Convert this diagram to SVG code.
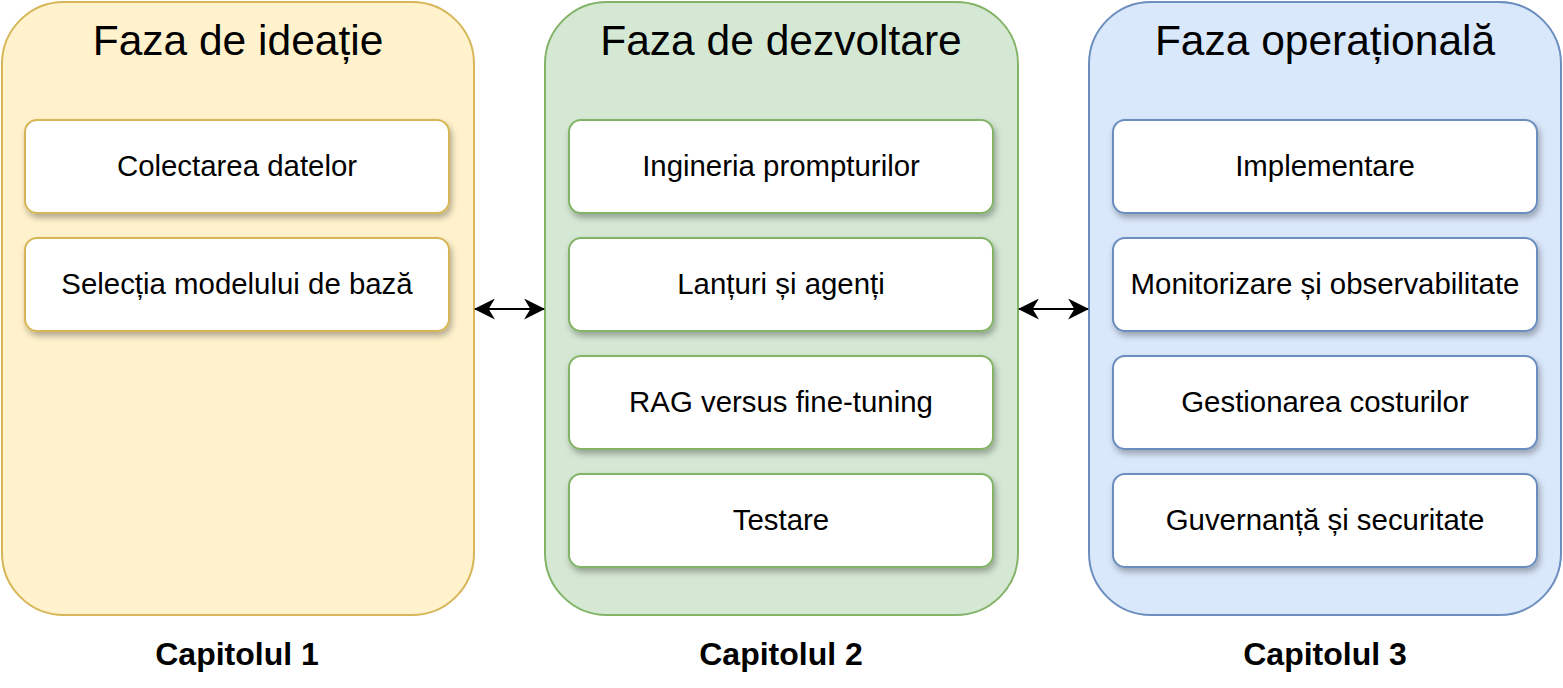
<svg xmlns="http://www.w3.org/2000/svg" width="1563" height="688" viewBox="0 0 1563 688">
<style>
.panel{stroke-width:2}
.p1{fill:#fff2cc;stroke:#d6b656}
.p2{fill:#d5e8d4;stroke:#82b366}
.p3{fill:#dae8fc;stroke:#6c8ebf}
.box{fill:#ffffff;stroke-width:2;filter:url(#sh)}
.b1{stroke:#d6b656}
.b2{stroke:#82b366}
.b3{stroke:#6c8ebf}
.title{font-family:"Liberation Sans",Arial,sans-serif;font-size:42.5px;fill:#000;text-anchor:middle}
.lbl{font-family:"Liberation Sans",Arial,sans-serif;font-size:29.4px;fill:#000;text-anchor:middle}
.cap{font-family:"Liberation Sans",Arial,sans-serif;font-size:32px;font-weight:bold;fill:#000;text-anchor:middle}
.conn{stroke:#000;stroke-width:2;fill:none;marker-start:url(#arr);marker-end:url(#arr)}
</style>
<defs>
<filter id="sh" x="-10%" y="-20%" width="120%" height="150%">
<feDropShadow dx="2" dy="4" stdDeviation="3" flood-color="#000" flood-opacity="0.3"/>
</filter>
<marker id="arr" viewBox="0 0 20 20" refX="19" refY="10" markerWidth="21" markerHeight="21" markerUnits="userSpaceOnUse" orient="auto-start-reverse">
<path d="M0,0 L20,10 L0,20 L6,10 Z" fill="#000"/>
</marker>
</defs>
<rect width="1563" height="688" fill="#ffffff"/>

<g id="phase1">
<rect class="panel p1" x="2" y="2" width="472" height="613" rx="62"/>
<text class="title" x="238" y="55">Faza de ideație</text>
</g>
<g id="n-colectarea">
<rect class="box b1" x="25" y="120" width="424" height="93" rx="12"/>
<text class="lbl" x="237" y="176">Colectarea datelor</text>
</g>
<g id="n-selectia">
<rect class="box b1" x="25" y="238" width="424" height="93" rx="12"/>
<text class="lbl" x="237" y="294">Selecția modelului de bază</text>
</g>
<g id="cap1"><text class="cap" x="237" y="665">Capitolul 1</text></g>

<g id="phase2">
<rect class="panel p2" x="545" y="2" width="473" height="613" rx="62"/>
<text class="title" x="781" y="55">Faza de dezvoltare</text>
</g>
<g id="n-inginerie">
<rect class="box b2" x="569" y="120" width="424" height="93" rx="12"/>
<text class="lbl" x="781" y="176">Ingineria prompturilor</text>
</g>
<g id="n-lanturi">
<rect class="box b2" x="569" y="238" width="424" height="93" rx="12"/>
<text class="lbl" x="781" y="294">Lanțuri și agenți</text>
</g>
<g id="n-rag">
<rect class="box b2" x="569" y="356" width="424" height="93" rx="12"/>
<text class="lbl" x="781" y="412">RAG versus fine-tuning</text>
</g>
<g id="n-testare">
<rect class="box b2" x="569" y="474" width="424" height="93" rx="12"/>
<text class="lbl" x="781" y="530">Testare</text>
</g>
<g id="cap2"><text class="cap" x="781" y="665">Capitolul 2</text></g>

<g id="phase3">
<rect class="panel p3" x="1089" y="2" width="472" height="613" rx="62"/>
<text class="title" x="1325" y="55">Faza operațională</text>
</g>
<g id="n-implementare">
<rect class="box b3" x="1113" y="120" width="424" height="93" rx="12"/>
<text class="lbl" x="1325" y="176">Implementare</text>
</g>
<g id="n-monitorizare">
<rect class="box b3" x="1113" y="238" width="424" height="93" rx="12"/>
<text class="lbl" x="1325" y="294">Monitorizare și observabilitate</text>
</g>
<g id="n-costuri">
<rect class="box b3" x="1113" y="356" width="424" height="93" rx="12"/>
<text class="lbl" x="1325" y="412">Gestionarea costurilor</text>
</g>
<g id="n-guvernanta">
<rect class="box b3" x="1113" y="474" width="424" height="93" rx="12"/>
<text class="lbl" x="1325" y="530">Guvernanță și securitate</text>
</g>
<g id="cap3"><text class="cap" x="1325" y="665">Capitolul 3</text></g>

<g id="connectors">
<line class="conn" x1="475" y1="309" x2="544" y2="309"/>
<line class="conn" x1="1019" y1="309" x2="1088" y2="309"/>
</g>
</svg>
